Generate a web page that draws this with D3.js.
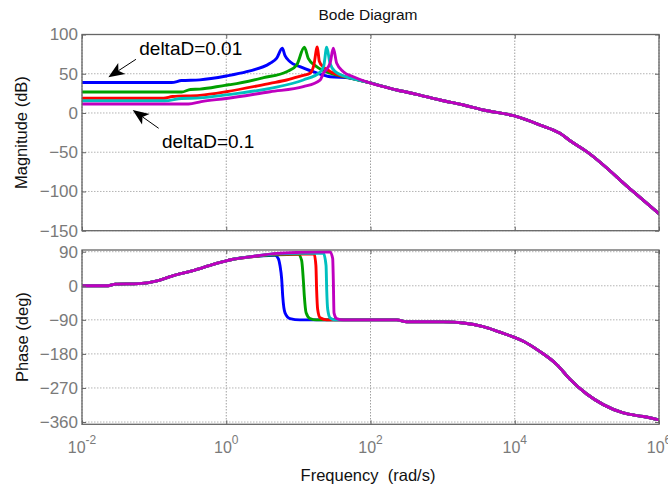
<!DOCTYPE html>
<html><head><meta charset="utf-8">
<script src="https://cdn.jsdelivr.net/npm/d3@7"></script>
<style>
body{margin:0;background:#fff}
svg{display:block}
text{font-family:"Liberation Sans",Arial,sans-serif}
</style>
</head><body><div id="chart"></div>
<script>
// ---------- data ----------
const xTicks = [1e-2, 1, 1e2, 1e4, 1e6];
const xTickExp = ["-2", "0", "2", "4", "6"];
const magTicks = [-150, -100, -50, 0, 50, 100];
const phaseTicks = [-360, -270, -180, -90, 0, 90];

// magnitude (rad/s, dB) – low-frequency part of each curve
const magBlue = [[0.01,38.8],[0.175,38.8],[0.24,41.3],[0.43,42.2],[1.0,47.1],[1.92,52.6],[4.05,63.3],[5.01,70],[5.98,82.4],[6.53,73],[7.66,65.3],[10.5,59],[16,52.6],[27.5,46.2]];
const magGreen = [[0.01,26.7],[0.24,26.7],[0.32,30],[0.43,30.4],[1.0,35.5],[1.2,36.5],[3.3,45],[6.89,52.6],[9.48,61.1],[12.1,83.7],[13.7,69.7],[17.9,59],[27.5,50.6]];
const magRed = [[0.01,18.8],[0.135,18.8],[0.18,21],[0.43,22.5],[1.0,27.1],[4.05,37.8],[6.89,42],[11.7,48],[14.5,50.5],[16.3,60],[18.3,84],[19.5,66],[22,59],[27.5,53]];
const magCyan = [[0.01,15.5],[0.14,15.5],[0.24,18.5],[0.43,19.2],[1.0,23],[4.05,31.4],[11.7,42],[20,52],[22.5,60],[24.7,83.7],[27.5,63],[32.2,53]];
const magMagenta = [[0.01,11.4],[0.30,11.4],[0.45,14.5],[1.0,18.5],[4.05,27.1],[11.7,33.5],[20,42],[22.2,50.6],[27.5,63.3],[30.5,82.4],[34,63.3],[42,52.6],[57.8,46.2]];
// shared high-frequency magnitude
const magTail = [[52,44.6],[96,38.6],[231,29.3],[438,23.8],[920,16.5],[1940,10.2],[3660,3.8],[9660,-3.5],[22400,-15.3],[42400,-25.9],[60000,-36],[99500,-49.3],[440000,-100.3],[1e6,-128.3]];

// phase (rad/s, deg)
const phaseHead = [[0.01,0],[0.023,0],[0.029,4.4],[0.061,5.6],[0.11,13],[0.177,25.7],[0.335,39.5],[0.70,58],[1.0,66],[1.2,69.5],[2.13,76.2]];
const phBlue = [[3.24,79.5],[4.74,80.5],[5.27,71.8],[5.56,53.3],[5.87,17.4],[6.07,-28],[6.53,-71.5],[7.66,-86.6],[10.5,-90]];
const phGreen = [[5.0,82],[9.98,83],[11.1,67],[11.7,16.6],[12.1,-28],[12.8,-71.5],[14.5,-86.6],[17.9,-90]];
const phRed = [[5.01,83.5],[16.5,84.5],[17.5,53.3],[17.9,-9.7],[18.5,-61.9],[20.0,-84.6],[24.7,-90]];
const phCyan = [[5.01,84.5],[22.2,86.4],[24.2,53.3],[24.7,-9.7],[25.5,-61.9],[27.5,-84.6],[32.2,-90]];
const phMagenta = [[5.01,85.6],[10.5,88.3],[27.5,89.5],[29.9,71.8],[30.5,17.4],[31.2,-71.5],[34,-86.6],[42,-90]];
const phaseTail = [[42,-90],[231,-90],[318,-95],[1020,-95.5],[1940,-98.5],[3660,-108],[6240,-122.7],[9660,-135.5],[13150,-146.6],[22400,-174],[38200,-208],[58300,-247],[99500,-286],[169000,-314],[320000,-336],[605000,-345.5],[1e6,-354.5]];

const seriesColors = ["#0000ff", "#00a000", "#ff0000", "#00bfbf", "#bf00bf"];

const annotations = [
  {text: "deltaD=0.01", tx: 0.0622, ty: 73.9, from: [0.056, 68.4], to: [0.0232, 45.5]},
  {text: "deltaD=0.1", tx: 0.1285, ty: -44.2, from: [0.1156, -19.5], to: [0.0505, 3.8]}
];

// ---------- layout ----------
const W = 668, H = 488;
const X0 = 82, X1 = 659;
const svg = d3.select("#chart").append("svg").attr("width", W).attr("height", H);

const x = d3.scaleLog().domain([1e-2, 1e6]).range([X0, X1]);
const yMag = d3.scaleLinear().domain([-150, 100]).range([230.7, 34.5]);
const yPh = d3.scaleLinear().domain([-366, 94.5]).range([424.3, 250]);

function join(head, mid, tail) {
  const a = head.concat(mid);
  const last = a[a.length - 1][0];
  return a.concat(tail.filter(d => d[0] > last));
}
const magSeries = [magBlue, magGreen, magRed, magCyan, magMagenta].map(s => join(s, [], magTail));
const phSeries = [phBlue, phGreen, phRed, phCyan, phMagenta].map(s => join(phaseHead, s, phaseTail));

function panel(y, yTicks, series, id) {
  const [yb, yt] = y.range();
  const g = svg.append("g");
  g.append("g").selectAll("line").data(yTicks).join("line")
    .attr("x1", X0).attr("x2", X1).attr("y1", d => y(d)).attr("y2", d => y(d))
    .attr("stroke", "#b4b4b4").attr("stroke-width", 1).attr("stroke-dasharray", "1.5,1.5");
  g.append("g").selectAll("line").data(xTicks).join("line")
    .attr("y1", yt).attr("y2", yb).attr("x1", d => x(d)).attr("x2", d => x(d))
    .attr("stroke", "#a0a0a0").attr("stroke-width", 1).attr("stroke-dasharray", "1.5,1.5");

  const clipId = "clip" + id;
  svg.append("clipPath").attr("id", clipId).append("rect")
    .attr("x", X0).attr("y", yt).attr("width", X1 - X0).attr("height", yb - yt);
  const line = d3.line().x(d => x(d[0])).y(d => y(d[1])).curve(d3.curveMonotoneX);
  g.append("g").attr("clip-path", `url(#${clipId})`)
    .selectAll("path").data(series).join("path")
    .attr("d", line).attr("fill", "none")
    .attr("stroke", (d, i) => seriesColors[i]).attr("stroke-width", 2.9)
    .attr("stroke-linejoin", "round").attr("stroke-linecap", "round");

  const left = g.append("g").attr("transform", `translate(${X0},0)`)
    .call(d3.axisLeft(y).tickValues(yTicks).tickSizeInner(-4).tickSizeOuter(0).tickPadding(4));
  const right = g.append("g").attr("transform", `translate(${X1},0)`)
    .call(d3.axisRight(y).tickValues(yTicks).tickSizeInner(-4).tickSizeOuter(0).tickFormat(""));
  const top = g.append("g").attr("transform", `translate(0,${yt})`)
    .call(d3.axisTop(x).tickValues(xTicks).tickSizeInner(-4).tickSizeOuter(0).tickFormat(""));
  const bottom = g.append("g").attr("transform", `translate(0,${yb})`)
    .call(d3.axisBottom(x).tickValues(xTicks).tickSizeInner(-4).tickSizeOuter(0).tickFormat(""));
  [left, right, top, bottom].forEach(a => {
    a.select(".domain").remove();
    a.selectAll(".tick line").attr("stroke", "#666");
  });
  left.selectAll(".tick text").attr("fill", "#7a7a7a").style("font-size", "17px")
    .style("font-family", '"Liberation Sans",Arial,sans-serif');

  g.append("rect").attr("x", X0).attr("y", yt).attr("width", X1 - X0).attr("height", yb - yt)
    .attr("fill", "none").attr("stroke", "#666").attr("stroke-width", 1.3);
  return g;
}

panel(yMag, magTicks, magSeries, "m");
panel(yPh, phaseTicks, phSeries, "p");

// x tick labels with superscripts (last one runs off the right edge, as in the original)
const xl = svg.append("g").selectAll("text").data(xTicks).join("text")
  .attr("x", d => x(d)).attr("y", 453).attr("text-anchor", "middle")
  .attr("fill", "#7a7a7a").style("font-size", "16px");
xl.append("tspan").text("10");
xl.append("tspan").attr("dy", -9).style("font-size", "12px").text((d, i) => xTickExp[i]);

svg.append("text").attr("x", 368).attr("y", 20).attr("text-anchor", "middle")
  .style("font-size", "15.5px").attr("fill", "#111").text("Bode Diagram");
svg.append("text").attr("transform", `translate(27,${(yMag.range()[0] + yMag.range()[1]) / 2}) rotate(-90)`)
  .attr("text-anchor", "middle").style("font-size", "16.5px").attr("fill", "#111").text("Magnitude (dB)");
svg.append("text").attr("transform", `translate(28,${(yPh.range()[0] + yPh.range()[1]) / 2}) rotate(-90)`)
  .attr("text-anchor", "middle").style("font-size", "16.5px").attr("fill", "#111").text("Phase (deg)");
svg.append("text").attr("x", 368).attr("y", 481).attr("text-anchor", "middle")
  .style("font-size", "16.5px").style("white-space", "pre").attr("fill", "#111").text("Frequency  (rad/s)");

const ann = svg.append("g");
annotations.forEach(a => {
  const x1 = x(a.from[0]), y1 = yMag(a.from[1]);
  const x2 = x(a.to[0]), y2 = yMag(a.to[1]);
  const ang = Math.atan2(y2 - y1, x2 - x1);
  const L = 16, Wd = 6.5, back = 12;
  const ca = Math.cos(ang), sa = Math.sin(ang);
  const bx = x2 - L * ca, by = y2 - L * sa;
  const nx = x2 - back * ca, ny = y2 - back * sa;
  ann.append("line").attr("x1", x1).attr("y1", y1).attr("x2", nx).attr("y2", ny)
    .attr("stroke", "#000").attr("stroke-width", 1);
  const pts = [[x2, y2], [bx - Wd * sa, by + Wd * ca], [nx, ny], [bx + Wd * sa, by - Wd * ca]];
  ann.append("polygon").attr("points", pts.map(p => p.join(",")).join(" ")).attr("fill", "#000");
  ann.append("text").attr("x", x(a.tx)).attr("y", yMag(a.ty)).style("font-size", "19px")
    .attr("fill", "#000").text(a.text);
});
</script>
</body></html>
